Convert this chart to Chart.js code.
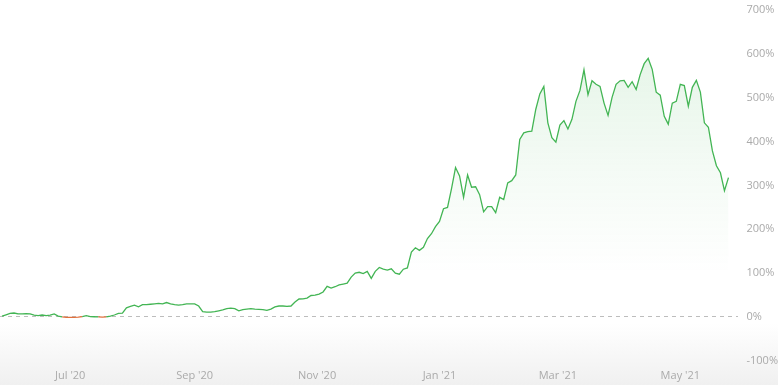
<!DOCTYPE html>
<html>
<head>
<meta charset="utf-8">
<script src="https://cdn.jsdelivr.net/npm/chart.js@4"></script>
<style>
  html, body { margin: 0; padding: 0; }
  body { width: 778px; height: 385px; background: linear-gradient(to bottom, #ffffff 0%, #ffffff 84%, #f0f0f0 100%); }
  #wrap { position: relative; width: 778px; height: 385px; }
</style>
</head>
<body>
<div id="wrap"><canvas id="perfChart"></canvas></div>
<script>
// first point is 28 May 2020, one value every 2 days
const startDate = '2020-05-28';
const stepDays = 2;

// performance in %
const performance = [
  2, 5, 8, 9, 7, 7, 7.5, 7, 4, 3,
  4.5, 3, 4, 7, 2, 0, -1, -1, -1, -0.5,
  1, 3, 1, 0.5, 0, -0.5, 0, 2, 4.5, 8,
  9, 21, 24, 27, 23, 28, 28, 29, 30, 31,
  30, 33, 30, 28, 27, 28, 30, 30, 30, 25,
  12, 11, 11, 12, 14, 16, 19, 20, 19, 14,
  17, 18, 19, 18, 17.5, 17, 15, 18, 23, 25,
  25, 24, 25, 34, 41, 41.5, 43, 49, 50, 52,
  57, 70, 66, 69, 73, 75, 77, 91, 100, 102,
  99, 104, 88, 104, 113, 109, 107, 110, 100, 97.5,
  109, 112, 148, 158, 152, 159, 179, 190, 206, 218,
  247, 250, 293, 341, 322, 273, 324, 296, 297, 279,
  240, 252, 252, 238, 273, 268, 306, 311, 324, 405,
  420, 423, 424, 474, 509, 526, 443, 409, 399, 438,
  448, 429, 451, 492, 517, 564, 507, 539, 531, 526,
  488, 460, 501, 531, 539, 540, 524, 537, 519, 553,
  578, 590, 565, 513, 506, 458, 440, 488, 492, 531,
  528, 481, 524, 540, 513, 443, 433, 379, 345, 329,
  288, 318
];

// x axis ticks: day offset from start date and label
const monthDays = [34, 96, 157, 218, 277, 338];
const monthLabels = ["Jul '20", "Sep '20", "Nov '20", "Jan '21", "Mar '21", "May '21"];

// y axis
const yMin = -100;
const yMax = 700;
const yStep = 100;

const lineGreen = 'rgb(67, 181, 84)';
const lineRed = 'rgb(226, 112, 60)';

const points = performance.map((v, i) => ({ x: i * stepDays, y: v }));

const ctx = document.getElementById('perfChart').getContext('2d');

const perfChart = new Chart(ctx, {
  type: 'line',
  data: {
    datasets: [{
      label: 'Performance',
      data: points,
      borderColor: lineGreen,
      borderWidth: 1.3,
      pointRadius: 0,
      tension: 0,
      fill: 'origin',
      backgroundColor: (c) => {
        const area = c.chart.chartArea;
        if (!area) return 'rgba(67,181,84,0.1)';
        const g = c.chart.ctx.createLinearGradient(0, area.top, 0, area.bottom);
        g.addColorStop(0, 'rgba(67,181,84,0.16)');
        g.addColorStop(0.45, 'rgba(67,181,84,0.06)');
        g.addColorStop(0.75, 'rgba(67,181,84,0)');
        return g;
      },
      segment: {
        borderColor: (s) => (s.p0.parsed.y < 0 || s.p1.parsed.y < 0) ? lineRed : lineGreen
      }
    }]
  },
  options: {
    responsive: true,
    maintainAspectRatio: false,
    animation: false,
    layout: { padding: { top: -4, left: 0, right: -8, bottom: -5 } },
    plugins: {
      legend: { display: false },
      tooltip: { enabled: false }
    },
    scales: {
      x: {
        type: 'linear',
        min: -1,
        max: 367,
        afterBuildTicks: (axis) => {
          axis.ticks = monthDays.map(d => ({ value: d }));
        },
        ticks: {
          autoSkip: false,
          maxRotation: 0,
          padding: 8,
          color: '#aaaaaa',
          font: { family: 'Open Sans', size: 11 },
          callback: (value) => monthLabels[monthDays.indexOf(value)]
        },
        grid: { display: false, drawTicks: false },
        border: { display: false }
      },
      y: {
        position: 'right',
        min: yMin,
        max: yMax,
        ticks: {
          stepSize: yStep,
          padding: 8,
          color: '#aaaaaa',
          font: { family: 'Open Sans', size: 11, lineHeight: 0.4 },
          callback: (value) => value + '%'
        },
        grid: {
          drawTicks: false,
          lineWidth: 1,
          color: (c) => c.tick && c.tick.value === 0 ? '#bdbdbd' : 'rgba(0,0,0,0)'
        },
        border: { display: false, dash: [4, 4] }
      }
    }
  }
});
</script>
</body>
</html>
